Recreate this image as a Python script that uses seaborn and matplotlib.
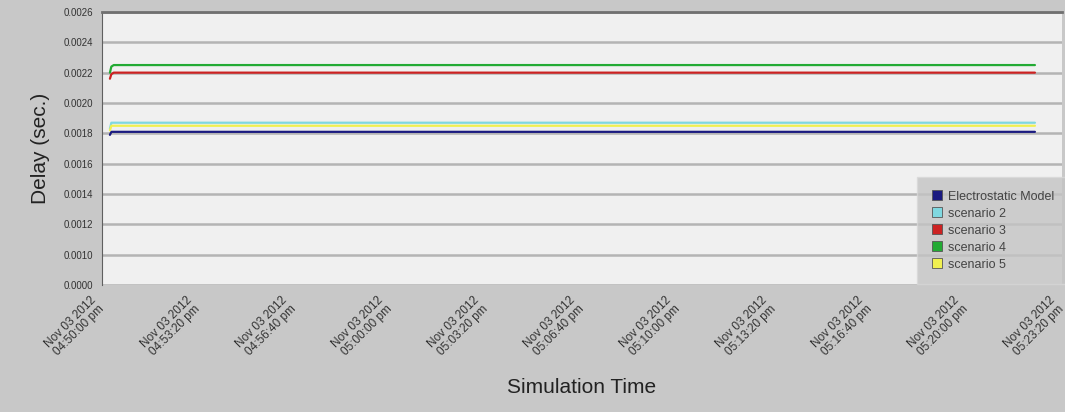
import numpy as np
import pandas as pd
import seaborn as sns
import matplotlib.pyplot as plt
import matplotlib.transforms as mtransforms
from matplotlib.lines import Line2D

# seconds after 04:50:00 pm
times = [16, 19, 24, 1944]
electrostatic = [0.00179, 0.00181, 0.00181, 0.00181]
scenario2 = [0.00183, 0.00187, 0.00187, 0.00187]
scenario3 = [0.00216, 0.00219, 0.00220, 0.00220]
scenario4 = [0.00220, 0.00224, 0.00225, 0.00225]
scenario5 = [0.00182, 0.00185, 0.00185, 0.00185]

series_names = ['Electrostatic Model', 'scenario 2', 'scenario 3', 'scenario 4', 'scenario 5']
colors = ['#1a1a80', '#7fd8e0', '#cc2222', '#22aa33', '#f0f050']

tick_secs = [0, 200, 400, 600, 800, 1000, 1200, 1400, 1600, 1800, 2000]
tick_labels = ['04:50:00', '04:53:20', '04:56:40', '05:00:00', '05:03:20', '05:06:40',
               '05:10:00', '05:13:20', '05:16:40', '05:20:00', '05:23:20']
y_ticks = [0.0008, 0.0010, 0.0012, 0.0014, 0.0016, 0.0018, 0.0020, 0.0022, 0.0024, 0.0026]
y_labels = ['0.0000', '0.0010', '0.0012', '0.0014', '0.0016', '0.0018', '0.0020', '0.0022', '0.0024', '0.0026']

rows = []
for name, vals in zip(series_names, [electrostatic, scenario2, scenario3, scenario4, scenario5]):
    for t, v in zip(times, vals):
        rows.append({'time': t, 'delay': v, 'series': name})
df = pd.DataFrame(rows)

sns.set_style('white')
plt.rcParams['font.family'] = ['Liberation Sans', 'DejaVu Sans']

fig = plt.figure(figsize=(10.65, 4.12), dpi=100, facecolor='#c8c8c8')
ax = fig.add_axes([0.096, 0.308, 0.901, 0.663])
ax.set_facecolor('#f0f0f0')

for y in y_ticks:
    ax.axhline(y, color='#b4b4b4', lw=1.8, zorder=0)

sns.lineplot(data=df, x='time', y='delay', hue='series', palette=colors,
             hue_order=series_names, lw=1.6, ax=ax, legend=False)

ax.set_xlim(0, 2000)
ax.set_ylim(0.0008, 0.0026)
ax.tick_params(axis='both', length=3, color='#444444')
ax.tick_params(axis='x', pad=4)
ax.set_yticks(y_ticks)
ax.set_yticklabels(y_labels, fontsize=7, color='#333333')
ax.set_xticks(tick_secs)
ax.set_xticklabels(['Nov 03 2012\n' + t + ' pm' for t in tick_labels], rotation=45,
                   ha='right', va='center', rotation_mode='anchor', fontsize=8.5,
                   color='#333333', linespacing=1.0)
# shift the slanted labels left and down, as in the original
shift = mtransforms.ScaledTranslation(-3 / 72, -6 / 72, fig.dpi_scale_trans)
for lbl in ax.get_xticklabels():
    lbl.set_transform(lbl.get_transform() + shift)

for side in ['right', 'bottom']:
    ax.spines[side].set_visible(False)
ax.spines['top'].set_color('#707070')
ax.spines['top'].set_linewidth(2)
ax.spines['left'].set_color('#606060')

ax.set_ylabel('Delay (sec.)', fontsize=15, color='#222222', labelpad=10)
ax.set_xlabel('Simulation Time', fontsize=15, color='#222222', labelpad=14)

handles = [Line2D([], [], marker='s', ls='none', markersize=6.5, markerfacecolor=c,
                  markeredgecolor='#555555', markeredgewidth=0.6) for c in colors]
leg = fig.legend(handles, series_names, loc='lower right', bbox_to_anchor=(1.003, 0.31),
                 fontsize=9, frameon=True, fancybox=False, handletextpad=0.4,
                 labelspacing=0.4, borderpad=1.1, handlelength=1.0, borderaxespad=0)
leg.get_frame().set_facecolor('#c4c4c4')
leg.get_frame().set_edgecolor('#d8d8d8')
for txt in leg.get_texts():
    txt.set_color('#444444')

fig.savefig('out.png', dpi=100, facecolor=fig.get_facecolor())
